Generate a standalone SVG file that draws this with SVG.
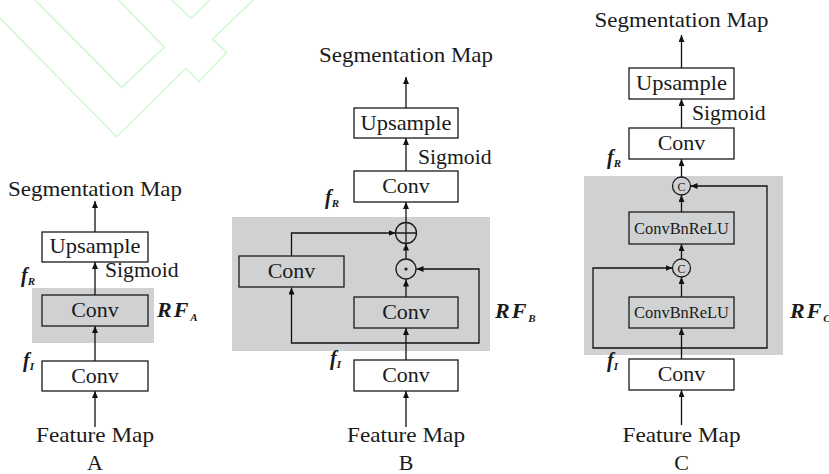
<svg xmlns="http://www.w3.org/2000/svg" width="829" height="474" viewBox="0 0 829 474">
<defs>
<marker id="ah" markerUnits="userSpaceOnUse" markerWidth="8" markerHeight="8" refX="7" refY="3" orient="auto">
<path d="M0,0 L7,3 L0,6 Z" fill="#111"/>
</marker>
<style>
.t{font-family:"Liberation Serif","Times New Roman",serif;font-size:22px;fill:#1a1a1a}
.m{text-anchor:middle}
.s{font-size:16px}
.bi{font-family:"Liberation Serif","Times New Roman",serif;font-weight:bold;font-style:italic;fill:#1a1a1a}
.box{fill:#fff;stroke:#1a1a1a;stroke-width:1.3}
.gbox{fill:#d0d1d3;stroke:#1a1a1a;stroke-width:1.3}
.reg{fill:#d0d1d3}
.c{fill:none;stroke:#111;stroke-width:1.3}
.a{marker-end:url(#ah)}
.wm{fill:none;stroke:#d2fad2;stroke-width:1.6}
</style>
</defs>
<g id="watermark">
<polyline class="wm" points="0,18.3 116.7,136.7 185.7,68.3 199,81.7 226.7,52.3 212.3,39.3 253.3,0"/>
<polyline class="wm" points="35,0 121.7,87.3 164.3,47.3 118.3,0"/>
<polyline class="wm" points="171.7,0 191,18.3 210,0"/>
</g>
<g id="regions">
<rect class="reg" x="32" y="288" width="122" height="55"/>
<rect class="reg" x="232" y="217" width="258" height="134"/>
<rect class="reg" x="584" y="176" width="199" height="179"/>
</g>
<g id="connectors">
<!-- A -->
<line class="c a" x1="95" y1="427" x2="95" y2="391"/>
<line class="c a" x1="95" y1="361" x2="95" y2="326"/>
<line class="c a" x1="95" y1="295" x2="95" y2="262"/>
<line class="c a" x1="95" y1="232" x2="95" y2="201"/>
<!-- B -->
<line class="c a" x1="406" y1="427" x2="406" y2="391"/>
<line class="c a" x1="406" y1="360" x2="406" y2="328"/>
<path class="c a" d="M406,343 H291.5 V287.5"/>
<path class="c a" d="M406,343 H479 V269 H416.5"/>
<line class="c a" x1="406" y1="297" x2="406" y2="279.5"/>
<line class="c a" x1="406" y1="259" x2="406" y2="243.5"/>
<path class="c a" d="M291.5,256 V233 H395.5"/>
<line class="c a" x1="406" y1="222.5" x2="406" y2="202"/>
<line class="c a" x1="406" y1="171" x2="406" y2="138"/>
<line class="c a" x1="406" y1="108" x2="406" y2="77"/>
<!-- C -->
<line class="c a" x1="681.5" y1="425" x2="681.5" y2="390"/>
<line class="c a" x1="681.5" y1="359" x2="681.5" y2="328"/>
<path class="c a" d="M681.5,348 H593 V268 H672.5"/>
<path class="c a" d="M681.5,348 H767 V186 H690.5"/>
<line class="c a" x1="681.5" y1="297" x2="681.5" y2="277"/>
<line class="c a" x1="681.5" y1="259" x2="681.5" y2="244"/>
<line class="c a" x1="681.5" y1="212" x2="681.5" y2="195"/>
<line class="c a" x1="681.5" y1="177" x2="681.5" y2="159"/>
<line class="c a" x1="681.5" y1="128" x2="681.5" y2="99"/>
<line class="c a" x1="681.5" y1="68" x2="681.5" y2="35"/>
</g>
<!-- Panel A -->
<g id="A-seg"><text class="t m" x="95" y="196" textLength="174" lengthAdjust="spacingAndGlyphs">Segmentation Map</text></g>
<g id="A-upsample"><rect class="box" x="42" y="232" width="106" height="30"/><text class="t m" x="95" y="253" textLength="91" lengthAdjust="spacingAndGlyphs">Upsample</text></g>
<g id="A-sigmoid"><text class="t" x="105" y="277" textLength="73.5" lengthAdjust="spacingAndGlyphs">Sigmoid</text></g>
<g id="A-fR"><text class="bi" x="21" y="282" font-size="20">f<tspan font-size="11" dy="3">R</tspan></text></g>
<g id="A-convR"><rect class="gbox" x="42" y="295" width="106" height="31"/><text class="t m" x="95" y="317">Conv</text></g>
<g id="A-RF"><text class="bi" x="157" y="317" font-size="22" letter-spacing="2">RF<tspan font-size="11" dy="4" letter-spacing="0">A</tspan></text></g>
<g id="A-fI"><text class="bi" x="23" y="367" font-size="20">f<tspan font-size="11" dy="3">I</tspan></text></g>
<g id="A-convI"><rect class="box" x="42" y="361" width="106" height="30"/><text class="t m" x="95" y="382.5">Conv</text></g>
<g id="A-feat"><text class="t m" x="95" y="442" textLength="118" lengthAdjust="spacingAndGlyphs">Feature Map</text></g>
<g id="A-label"><text class="t m" x="95" y="470">A</text></g>
<!-- Panel B -->
<g id="B-seg"><text class="t m" x="406" y="62" textLength="174" lengthAdjust="spacingAndGlyphs">Segmentation Map</text></g>
<g id="B-upsample"><rect class="box" x="354" y="108" width="104" height="30"/><text class="t m" x="406" y="129.5" textLength="91" lengthAdjust="spacingAndGlyphs">Upsample</text></g>
<g id="B-sigmoid"><text class="t" x="418" y="164" textLength="73.5" lengthAdjust="spacingAndGlyphs">Sigmoid</text></g>
<g id="B-convR"><rect class="box" x="354" y="171" width="104" height="31"/><text class="t m" x="406" y="193">Conv</text></g>
<g id="B-fR"><text class="bi" x="325" y="204" font-size="20">f<tspan font-size="11" dy="3">R</tspan></text></g>
<g id="B-plus"><circle cx="406" cy="233" r="10.5" fill="none" stroke="#1a1a1a" stroke-width="1.3"/><path d="M395.5,233 H416.5 M406,222.5 V243.5" stroke="#1a1a1a" stroke-width="1.3"/></g>
<g id="B-dot"><circle cx="406" cy="269" r="10" fill="none" stroke="#1a1a1a" stroke-width="1.3"/><circle cx="406" cy="269" r="1.6" fill="#1a1a1a"/></g>
<g id="B-convL"><rect class="gbox" x="239" y="256" width="105" height="31"/><text class="t m" x="291.5" y="278">Conv</text></g>
<g id="B-convM"><rect class="gbox" x="354" y="297" width="104" height="31"/><text class="t m" x="406" y="319">Conv</text></g>
<g id="B-RF"><text class="bi" x="495" y="318" font-size="22" letter-spacing="2">RF<tspan font-size="11" dy="4" letter-spacing="0">B</tspan></text></g>
<g id="B-fI"><text class="bi" x="330" y="365" font-size="20">f<tspan font-size="11" dy="3">I</tspan></text></g>
<g id="B-convI"><rect class="box" x="354" y="360" width="104" height="31"/><text class="t m" x="406" y="382">Conv</text></g>
<g id="B-feat"><text class="t m" x="406" y="442" textLength="118" lengthAdjust="spacingAndGlyphs">Feature Map</text></g>
<g id="B-label"><text class="t m" x="406" y="470">B</text></g>
<!-- Panel C -->
<g id="C-seg"><text class="t m" x="681.5" y="27" textLength="174" lengthAdjust="spacingAndGlyphs">Segmentation Map</text></g>
<g id="C-upsample"><rect class="box" x="629" y="68" width="105" height="31"/><text class="t m" x="681.5" y="90" textLength="91" lengthAdjust="spacingAndGlyphs">Upsample</text></g>
<g id="C-sigmoid"><text class="t" x="692" y="120" textLength="73.5" lengthAdjust="spacingAndGlyphs">Sigmoid</text></g>
<g id="C-convR"><rect class="box" x="629" y="128" width="105" height="31"/><text class="t m" x="681.5" y="150">Conv</text></g>
<g id="C-fR"><text class="bi" x="607" y="164" font-size="20">f<tspan font-size="11" dy="3">R</tspan></text></g>
<g id="C-cat1"><circle cx="681.5" cy="186" r="9" fill="none" stroke="#1a1a1a" stroke-width="1.3"/><text class="t m" x="681.5" y="190.5" font-size="12" style="font-size:12px">C</text></g>
<g id="C-cbr1"><rect class="gbox" x="629" y="212" width="105" height="32"/><text class="t m s" x="681.5" y="233.5" textLength="95" lengthAdjust="spacingAndGlyphs">ConvBnReLU</text></g>
<g id="C-cat2"><circle cx="681.5" cy="268" r="9" fill="none" stroke="#1a1a1a" stroke-width="1.3"/><text class="t m" x="681.5" y="272.5" style="font-size:12px">C</text></g>
<g id="C-cbr2"><rect class="gbox" x="629" y="297" width="105" height="31"/><text class="t m s" x="681.5" y="318" textLength="95" lengthAdjust="spacingAndGlyphs">ConvBnReLU</text></g>
<g id="C-RF"><text class="bi" x="790" y="318" font-size="22" letter-spacing="2">RF<tspan font-size="11" dy="4" letter-spacing="0">C</tspan></text></g>
<g id="C-fI"><text class="bi" x="607" y="367" font-size="20">f<tspan font-size="11" dy="3">I</tspan></text></g>
<g id="C-convI"><rect class="box" x="629" y="359" width="105" height="31"/><text class="t m" x="681.5" y="381">Conv</text></g>
<g id="C-feat"><text class="t m" x="681.5" y="442" textLength="118" lengthAdjust="spacingAndGlyphs">Feature Map</text></g>
<g id="C-label"><text class="t m" x="681.5" y="470">C</text></g>
</svg>
